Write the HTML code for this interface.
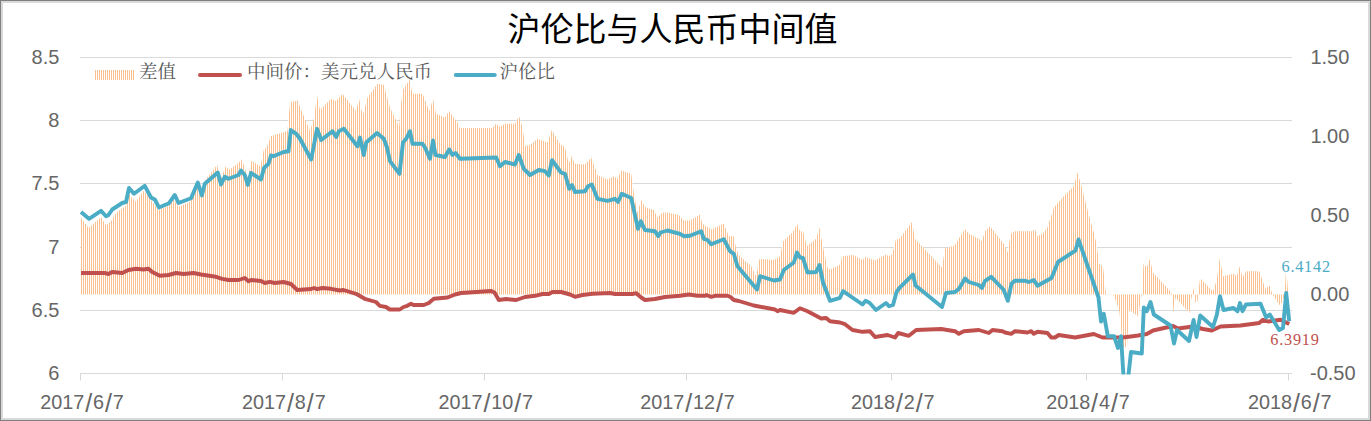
<!DOCTYPE html><html><head><meta charset="utf-8"><title>chart</title><style>html,body{margin:0;padding:0;background:#fff}svg{display:block}text{font-family:"Liberation Sans",sans-serif;font-size:20px;fill:#666}.s{font-family:"Liberation Serif",serif;font-size:16.3px;letter-spacing:0.75px}</style></head><body>
<svg width="1371" height="421" viewBox="0 0 1371 421">
<defs><pattern id="vs" x="0" y="0" width="2" height="8" patternUnits="userSpaceOnUse"><rect x="0" y="0" width="2" height="8" fill="#fff"/><rect x="1" y="0" width="1" height="8" fill="#FAC090"/></pattern><clipPath id="cp"><rect x="78" y="50" width="1215" height="324.6"/></clipPath></defs>
<rect x="0" y="0" width="1371" height="421" fill="#7F7F7F"/>
<rect x="1" y="1" width="1369" height="419" fill="#D9D9D9"/>
<rect x="3" y="3" width="1365" height="415" fill="#fff"/>
<line x1="80.0" y1="57.50" x2="1292" y2="57.50" stroke="#D9D9D9" stroke-width="1"/>
<line x1="80.0" y1="120.50" x2="1292" y2="120.50" stroke="#D9D9D9" stroke-width="1"/>
<line x1="80.0" y1="183.50" x2="1292" y2="183.50" stroke="#D9D9D9" stroke-width="1"/>
<line x1="80.0" y1="247.50" x2="1292" y2="247.50" stroke="#D9D9D9" stroke-width="1"/>
<line x1="80.0" y1="310.50" x2="1292" y2="310.50" stroke="#D9D9D9" stroke-width="1"/>
<line x1="80.0" y1="373.50" x2="1292" y2="373.50" stroke="#D9D9D9" stroke-width="1"/>
<line x1="80.5" y1="373" x2="80.5" y2="380.5" stroke="#D9D9D9" stroke-width="1"/>
<line x1="282.5" y1="373" x2="282.5" y2="380.5" stroke="#D9D9D9" stroke-width="1"/>
<line x1="484.5" y1="373" x2="484.5" y2="380.5" stroke="#D9D9D9" stroke-width="1"/>
<line x1="686.5" y1="373" x2="686.5" y2="380.5" stroke="#D9D9D9" stroke-width="1"/>
<line x1="891.5" y1="373" x2="891.5" y2="380.5" stroke="#D9D9D9" stroke-width="1"/>
<line x1="1086.5" y1="373" x2="1086.5" y2="380.5" stroke="#D9D9D9" stroke-width="1"/>
<line x1="1288.5" y1="373" x2="1288.5" y2="380.5" stroke="#D9D9D9" stroke-width="1"/>
<polygon points="81,294.4 81,218 88.6,228 101,217 106,225.6 111,221.3 116,213 126,205.7 129,194.7 135.8,201.4 144,190.4 150.8,199.7 158.4,210.3 169,205.7 174,199 178.4,207 190.7,201.4 197.3,184.7 201.6,196.4 205.6,179.8 217.2,164.8 220.6,179.8 225.5,166.5 228.9,169.8 238.8,163.1 241.2,159.2 243.8,164.8 247.8,178.1 251.5,160.5 260.4,166.5 263.8,150 267.1,146.5 271,136 287.5,131 290,102.5 297.5,100.5 303.8,116 310,131 313.8,118.8 317,96 320,110 331,98.8 336,101 342.5,93.8 356,111 359,98.8 362.8,115.5 367.5,97.5 377.5,83.8 383.8,85 390,107.5 399.2,126.5 401,104 403,89.5 409.5,80 412.5,93.8 422.5,93.8 429.5,111 433,98.8 436,113.8 445,117.5 449,111 457.5,122.5 459.5,128 492.5,128 496,123.8 500,127 505,123.8 515,123.8 519,116 522.5,127.5 525,146 530,145 537.5,138.8 547.5,142.5 551.8,130 560,143.8 565,147 568.8,163.8 571.2,156.2 575,163.8 585,164.5 591.2,157.5 597.5,175 607.5,179.5 613.8,176.2 617.5,178.8 621.2,170.5 631.2,173.8 633.8,192.5 637.5,212.5 641.2,200 645,207 653.8,210 657.5,217.5 662.5,212.5 667.5,212.5 678.8,215 683.8,220.5 690,220.5 700,214.5 702.5,223.8 711.2,229.5 723.8,223.8 728.8,236.2 733.8,236.2 736.2,248.8 738.8,255 751.2,266.2 756.2,276.2 759.5,258.8 773.8,260 780,256.2 783.2,241.2 792.5,232.5 797,223.8 800,231.2 803,231.2 806.8,246.2 816.2,238.8 819.5,227.5 822.5,245 827.5,267.5 830,269.5 839.5,265 842.5,256.2 853,255 862.5,260 865.5,257 875,260.5 885.8,254.5 888.8,256.2 892.5,253.8 895.8,240 900,238 912,222 915,238.8 942,267.5 945,248.8 954.5,245.5 958.8,238.8 965,228.8 968.8,233.8 978.8,238.8 982,241.2 985,231.2 990,226.2 1003.8,243.8 1007.5,252.5 1010.8,233.8 1014.5,231.2 1032.5,231.2 1035,228.8 1037,236.2 1042.5,233.8 1047.5,227.5 1053.8,207.5 1063.8,196.2 1073.8,186.2 1077.5,172.5 1081.2,185 1087.5,210 1093.8,232.5 1096.5,244 1099.2,263.8 1103,266.2 1106,294.2 1113,294.2 1115.5,300 1119.2,310 1123,347 1127,347 1129.2,310 1138,316.2 1141.8,294.2 1143.5,263.8 1146.8,267.5 1149.8,258.8 1153,272.5 1170.5,291.2 1172,294.2 1173.8,313 1175.5,297.5 1189.5,313 1191,300 1192.5,294.2 1193.5,287.5 1195.5,303 1197.3,302 1198.3,294.4 1200,278 1213,291.2 1216.8,280 1219.8,258 1223,276.2 1233.5,273.8 1236.8,276.2 1239.8,266.2 1242.5,277.5 1246,271.2 1259.2,271.2 1265.5,288.8 1269.2,285 1272.5,294.2 1279.2,305 1282.5,302.5 1284.5,294.2 1286.2,267.5 1288,290 1289,294.2 1289,294.4" fill="url(#vs)"/>
<g clip-path="url(#cp)" fill="none" stroke-linejoin="round" stroke-linecap="butt">
<polyline points="81,273 104.8,273 108.5,274 112.2,272 122.2,273 128.5,270 136,268.8 143.5,269.5 148.5,268.8 152.2,272 159.8,275.8 168.5,275 176,273 183.5,274 193.5,273 201,274.5 216,276.8 222.2,278.8 228.5,280 238.5,280 244.8,278 248.5,281.2 251,280 261,281 264.8,283 269.8,281.8 274.8,283 283.5,282 291,284 297.2,290 311,289 314,288 317.2,289.2 322.2,288 331,288.8 339.8,290.5 343.5,290 356,293.8 364.8,298.8 376,302 379.8,305.8 386,307 389.8,309.5 399.8,309.5 403.5,307 407.2,305.8 411,303.8 413.5,305 423.8,305 428.8,303 433.8,298.8 447.5,297.5 455,294.5 461.2,293 491.2,291 494.5,292.5 498.8,300 506.2,299 516.2,300 525,297 535,295.8 542.5,294 548.8,294 552.5,292 561.2,292 570,294.5 575,296.8 582.5,295 592.5,293.8 610,293 615,294 632.5,294 636.2,293.2 641.2,297.5 645,300 655,299 665,297 680,295.8 688.8,294.5 697.5,295.8 705,295.8 706.2,295 711.2,296.8 715,295.8 727.5,295.8 730.5,297 733.8,300 738.8,301 753.8,305.5 775,309.5 777.5,311.2 780,310 793.8,312.8 800,308.2 807.5,311.2 821.2,318.5 826.2,318 830,321.2 840,322.5 845,324.2 852.5,330 862.5,331.8 870,331.2 875,337 887.5,335 895,337.5 898.2,333 908.8,335.8 916.2,330 941.2,329 955,331.2 958.8,333.8 963.8,331.2 978.8,330 988.8,333 992.5,330 1002.5,331.2 1005,332.5 1011.2,333.8 1015,331.2 1027.5,332.5 1031.2,331.2 1033.8,333.8 1037.5,331.8 1047.5,333 1051.2,337.5 1055,337.5 1058.8,335 1075,337.5 1093.8,334 1102.5,337.5 1122.5,337.5 1132.8,336.2 1138,335.5 1146.8,334 1153,330.5 1173,326 1178,328.5 1193,326.5 1203,329 1211.8,330.5 1220.5,326.5 1240.5,325.5 1259.2,323 1263,319.8 1268,321.5 1280.5,319.8 1289.2,324" stroke="#C0504D" stroke-width="3.9"/>
<polyline points="81,212 89,218.8 101,210.8 106,216.2 108.5,215 112.2,209.5 122.2,203 126,202 129,188 134,193.8 144.8,185.8 151,197.5 154.8,199.5 159,207.5 169,203.2 174.8,195 178.5,203 191,198.2 197.8,182.5 201.8,195.5 204.8,183.8 217.8,172.5 221,184.5 224.8,176.8 228.5,178.8 238.5,175 241,170.5 244.8,175 247.8,185 251,173 261,179.5 264,168 268.5,163.8 271,155.5 273.5,156.2 283.5,152 288.5,151.2 290.8,130 296.2,133.8 300,138.8 311.2,159.5 317,128.8 321.2,140 332.5,131.2 336.2,137 338.8,131.2 343.8,128.8 357.5,146.2 360,137.5 363.8,155 366.2,142.5 377,133 383.8,138.8 387,147.5 390,161.2 399.5,173.8 403,142.5 406.2,138.8 410,131.2 412.5,143.8 422.5,143.8 425,147.5 430,158.8 433,140.5 435.5,155 445,157 449.2,149.5 452.5,155 455.5,153 460,158.8 496.2,157.5 500,166.2 505,162 515,164.5 518.8,155 523.8,168.8 530,175 538.8,170 545,171.2 548.8,175.5 552,160.2 561,172.5 565,173.8 569.2,188.8 572,185 575,192 585,191.2 588,186.2 591.8,184.5 597.5,198.8 607.5,200.8 615,198.8 618,202 621.8,193.8 631.2,198 638,228.8 640.8,221.2 645,230 655,231.2 658.2,236.2 660.5,232.5 667.5,230.5 680,233.8 683.8,236.2 690,235.8 701.2,231.2 703.8,238.8 707.5,240 711.2,244.2 723.8,239.2 730,251.2 733.8,253.8 737.5,266.2 757,289.5 760,276.2 773.8,280.5 780,279.5 783.8,270 793.8,262.5 797,252.5 800,257.5 803,258 807.5,272.5 816.2,272 819.5,265 823,282.5 830,300.8 840,297.8 843,291.2 862.5,304.5 865.5,300.8 869.5,302.8 876,310 886,303 889,306.2 893,305 896.5,292.2 899.5,287.8 913,274.5 915.5,285.5 942,307 946,293 955,292 959,288.8 965,278.5 968.8,282 978.8,285 982,288 984.8,281.2 991.2,276.8 1003.8,290 1007.8,300.8 1011.5,283.8 1014.8,280.8 1025.5,280.8 1028.8,282 1033.8,280 1037.5,285.8 1051.5,278 1058,262 1075.5,250.5 1078.5,239.5 1098.5,297.5 1101,321.5 1103.8,313.8 1107.8,336.2 1114,336.2 1118,348 1121,336.2 1123.8,381 1127.8,381 1131,352 1141.8,353.5 1143.8,307.5 1146.8,311.2 1150.5,302 1153.8,314.5 1170.5,325.5 1174,343.5 1177,330 1189,341 1193.6,320 1196.5,337 1200.2,315.5 1213,327 1216.8,315 1220,296.2 1223.5,310 1233.5,308 1237.5,311.2 1240,303 1242.5,311.2 1246,304.5 1260.5,303.8 1266.2,317.5 1269.8,314.5 1279.2,330 1283,328 1286.2,293 1289.2,321.2" stroke="#4BACC6" stroke-width="3.9"/>
</g>
<text x="59.4" y="64.2" text-anchor="end">8.5</text>
<text x="59.4" y="127.2" text-anchor="end">8</text>
<text x="59.4" y="190.2" text-anchor="end">7.5</text>
<text x="59.4" y="254.2" text-anchor="end">7</text>
<text x="59.4" y="317.2" text-anchor="end">6.5</text>
<text x="59.4" y="380.2" text-anchor="end">6</text>
<text x="1310.4" y="64.2">1.50</text>
<text x="1310.4" y="143.2">1.00</text>
<text x="1310.4" y="222.2">0.50</text>
<text x="1310.4" y="301.2">0.00</text>
<text x="1310.0" y="380.2">-0.50</text>
<text x="40.3" y="408.9" style="font-size:19.8px">2017<tspan font-size="25.0" dx="0.9" dy="2.6">/</tspan><tspan dx="0.9" dy="-2.6">6</tspan><tspan font-size="25.0" dx="0.9" dy="2.6">/</tspan><tspan dx="0.9" dy="-2.6">7</tspan></text>
<text x="242.1" y="408.9" style="font-size:19.8px">2017<tspan font-size="25.0" dx="0.9" dy="2.6">/</tspan><tspan dx="0.9" dy="-2.6">8</tspan><tspan font-size="25.0" dx="0.9" dy="2.6">/</tspan><tspan dx="0.9" dy="-2.6">7</tspan></text>
<text x="438.5" y="408.9" style="font-size:19.8px">2017<tspan font-size="25.0" dx="0.9" dy="2.6">/</tspan><tspan dx="0.9" dy="-2.6">10</tspan><tspan font-size="25.0" dx="0.9" dy="2.6">/</tspan><tspan dx="0.9" dy="-2.6">7</tspan></text>
<text x="640.3" y="408.9" style="font-size:19.8px">2017<tspan font-size="25.0" dx="0.9" dy="2.6">/</tspan><tspan dx="0.9" dy="-2.6">12</tspan><tspan font-size="25.0" dx="0.9" dy="2.6">/</tspan><tspan dx="0.9" dy="-2.6">7</tspan></text>
<text x="851.0" y="408.9" style="font-size:19.8px">2018<tspan font-size="25.0" dx="0.9" dy="2.6">/</tspan><tspan dx="0.9" dy="-2.6">2</tspan><tspan font-size="25.0" dx="0.9" dy="2.6">/</tspan><tspan dx="0.9" dy="-2.6">7</tspan></text>
<text x="1046.2" y="408.9" style="font-size:19.8px">2018<tspan font-size="25.0" dx="0.9" dy="2.6">/</tspan><tspan dx="0.9" dy="-2.6">4</tspan><tspan font-size="25.0" dx="0.9" dy="2.6">/</tspan><tspan dx="0.9" dy="-2.6">7</tspan></text>
<text x="1248.0" y="408.9" style="font-size:19.8px">2018<tspan font-size="25.0" dx="0.9" dy="2.6">/</tspan><tspan dx="0.9" dy="-2.6">6</tspan><tspan font-size="25.0" dx="0.9" dy="2.6">/</tspan><tspan dx="0.9" dy="-2.6">7</tspan></text>
<text class="s" x="1281.5" y="271.9" style="fill:#4BACC6">6.4142</text>
<text class="s" x="1270.3" y="344.9" style="fill:#C0504D">6.3919</text>
<text x="672.5" y="41" text-anchor="middle" style="font-family:'Liberation Sans','Noto Sans CJK SC',sans-serif;font-size:33px;fill:#000">沪伦比与人民币中间值</text>
<rect x="95" y="70" width="39" height="10" fill="url(#vs)"/>
<text x="139" y="78" style="font-family:'Liberation Serif','Noto Serif CJK SC',serif;font-size:18.5px;fill:#595959">差值</text>
<line x1="200" y1="75" x2="240" y2="75" stroke="#C0504D" stroke-width="4.1" stroke-linecap="round"/>
<text x="247" y="78" style="font-family:'Liberation Serif','Noto Serif CJK SC',serif;font-size:18.5px;fill:#595959">中间价：美元兑人民币</text>
<line x1="455.9" y1="75" x2="494.7" y2="75" stroke="#4BACC6" stroke-width="4.1" stroke-linecap="round"/>
<text x="499.5" y="78" style="font-family:'Liberation Serif','Noto Serif CJK SC',serif;font-size:18.5px;fill:#595959">沪伦比</text>
</svg></body></html>
